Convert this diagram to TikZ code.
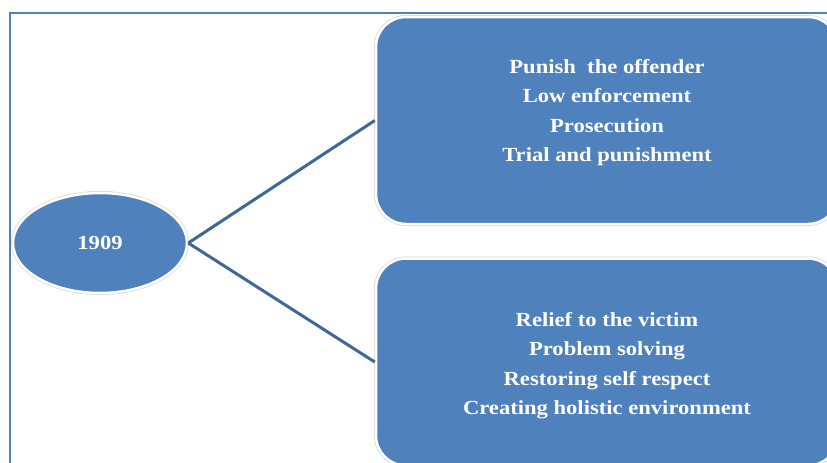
\documentclass[tikz,border=0pt]{standalone}
\usepackage{fontspec}
\setmainfont{Liberation Serif}
\newfontfamily\chartfont{Liberation Serif}[FakeStretch=1.13]
\usetikzlibrary{shapes.geometric}
\definecolor{boxblue}{HTML}{4F81BD}
\definecolor{linkblue}{HTML}{3F6797}
\tikzset{
	ring/.style = {preaction = {draw = gray!30, line width = 4pt}, draw = white, line width = 2.5pt, fill = boxblue},
	stage/.style = {ring, rounded corners = 30pt, minimum width = 462pt, minimum height = 207pt},
	stagetext/.style = {text = white, align = center, font = \chartfont\bfseries\fontsize{20}{29.5}\selectfont},
	link/.style = {draw = linkblue, line width = 3pt}
}
\begin{document}
\begin{tikzpicture}[x = 1pt, y = -1pt]
		\useasboundingbox (0, 0) rectangle (827, 463);
		\clip (0, 0) rectangle (827, 463);
		\fill[white] (0, 0) rectangle (827, 463);
		\draw[boxblue, line width = 2.2pt] (10, 13) rectangle (900, 520);
		% the year and its two views
		\node[ring, ellipse, minimum width = 174pt, minimum height = 100pt, stagetext] (year) at (100, 243) {1909};
		\node[stage, label = {[stagetext, yshift = 8pt]center:{Punish\ \ the offender\\Low enforcement\\Prosecution\\Trial and punishment}}] (punish) at (607, 120.5) {};
		\node[stage, label = {[stagetext, yshift = -3.5pt]center:{Relief to the victim\\Problem solving\\Restoring self respect\\Creating holistic environment}}] (restore) at (607, 362) {};
		\draw[link] (year.east) -- (punish.west);
		\draw[link] (year.east) -- (restore.west);
	\end{tikzpicture}
\end{document}
